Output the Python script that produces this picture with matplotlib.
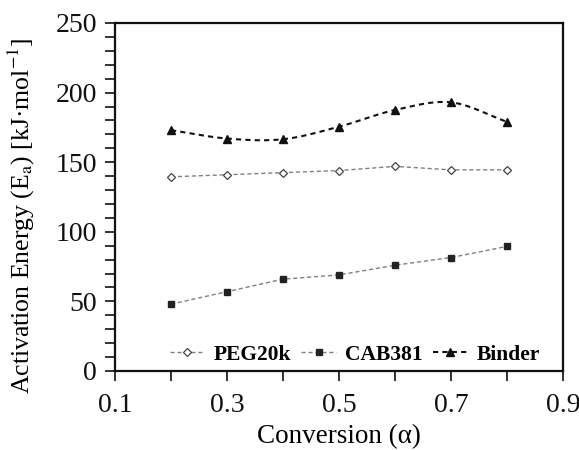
import numpy as np
import matplotlib
matplotlib.use('Agg')
import matplotlib.pyplot as plt
from matplotlib.ticker import MultipleLocator

plt.rcParams['font.family'] = ['Liberation Serif', 'DejaVu Serif']
plt.rcParams['mathtext.fontset'] = 'stix'

# data
conversion = [0.2, 0.3, 0.4, 0.5, 0.6, 0.7, 0.8]
peg20k = [139.5, 141, 142.5, 144, 147, 144.5, 144.5]
cab381 = [48, 57, 66, 69, 76, 81.5, 89.5]
binder = [173, 167, 166.5, 175.5, 187.5, 193, 179]


def smooth(x, y, n=30):
    # Catmull-Rom curve through the points (like Excel's smoothed line)
    x = np.asarray(x, float); y = np.asarray(y, float)
    px = np.concatenate([[2*x[0]-x[1]], x, [2*x[-1]-x[-2]]])
    py = np.concatenate([[2*y[0]-y[1]], y, [2*y[-1]-y[-2]]])
    xs, ys = [], []
    t = np.linspace(0, 1, n)
    for i in range(1, len(px)-2):
        for p, out in ((px, xs), (py, ys)):
            p0, p1, p2, p3 = p[i-1], p[i], p[i+1], p[i+2]
            out.extend(0.5*((2*p1) + (-p0+p2)*t + (2*p0-5*p1+4*p2-p3)*t**2
                            + (-p0+3*p1-3*p2+p3)*t**3))
    return xs, ys


fig = plt.figure(figsize=(5.79, 4.5), dpi=100)
ax = fig.add_axes([115/579, 79/450, 448/579, 348/450])

grey = '#808080'
ax.plot(conversion, peg20k, ls=(0, (3, 2)), color=grey, lw=1.0,
        marker='D', ms=4, mfc='white', mec='#444444', mew=0.9, label='PEG20k')
ax.plot(conversion, cab381, ls=(0, (3, 2)), color=grey, lw=1.0,
        marker='s', ms=5, mfc='#222222', mec='#222222', label='CAB381')
sx, sy = smooth(conversion, binder)
ax.plot(sx, sy, ls=(0, (2.5, 2)), color='#111111', lw=1.5)
ax.plot(conversion, binder, ls='none', marker='^', ms=5.5, color='#111111')
ax.plot([], [], ls=(0, (2.5, 2)), color='#111111', lw=1.5, marker='^', ms=5.5,
        label='Binder')

ax.set_xlim(0.1, 0.9)
ax.set_ylim(0, 250)
ax.xaxis.set_minor_locator(MultipleLocator(0.1))
ax.yaxis.set_major_locator(MultipleLocator(50))
ax.yaxis.set_minor_locator(MultipleLocator(10))
ax.set_xticks([0.1, 0.3, 0.5, 0.7, 0.9])
ax.set_xticklabels(['0.1', '0.3', '0.5', '0.7', '0.9'])
ax.tick_params(which='both', direction='out', width=1.2, labelsize=20,
               colors='#111111')
ax.tick_params(which='major', length=7, pad=6)
ax.tick_params(axis='x', which='major', pad=9)
ax.tick_params(which='minor', length=7)
for s in ax.spines.values():
    s.set_linewidth(1.6)
    s.set_color('#111111')

ax.set_xlabel('Conversion (α)', fontsize=19.5, labelpad=4)
ax.set_ylabel(r'Activation Energy (E$_\mathrm{a}$) [kJ·mol$^\mathrm{-1}$]',
              fontsize=18.5)
ax.yaxis.set_label_coords(-0.175, 0.447)

leg = ax.legend(loc='lower center', ncol=3, frameon=False,
                prop={'weight': 'bold', 'size': 15.5}, handlelength=1.6,
                columnspacing=0.45, handletextpad=0.45,
                bbox_to_anchor=(0.536, -0.037))

fig.savefig('out.png', dpi=100)
